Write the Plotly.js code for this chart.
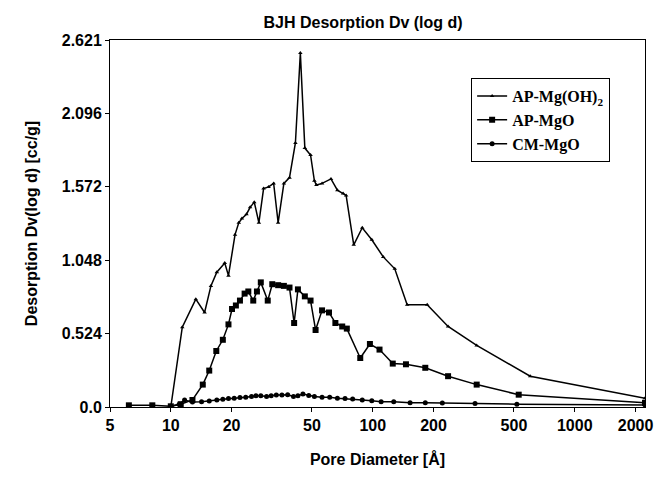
<!DOCTYPE html>
<html>
<head>
<meta charset="utf-8">
<script src="https://cdn.plot.ly/plotly-3.0.1.min.js"></script>
<style>html,body{margin:0;padding:0;background:#fff;}#chart{width:659px;height:478px;}</style>
</head>
<body>
<div id="chart"></div>
<script>
// AP-Mg(OH)2
const ohX = [10, 11.4, 13.3, 14.7, 15.8, 16.9, 18.5, 19.3, 20.8, 21.7, 22.5, 23.7, 24.7, 25.9, 27.3, 28.8, 30.5, 32.3, 34.0, 36.3, 38.7, 41.4, 43.8, 46.1, 49.2, 51.4, 52.6, 56.1, 62.1, 66.8, 71.3, 73.8, 80.5, 88.7, 98.9, 112.7, 128.5, 148, 186, 236, 327, 602, 2228];
const ohY = [0, 0.57, 0.77, 0.675, 0.865, 0.963, 1.028, 0.938, 1.231, 1.316, 1.346, 1.377, 1.426, 1.463, 1.316, 1.560, 1.572, 1.597, 1.316, 1.597, 1.638, 1.886, 2.528, 1.849, 1.80, 1.615, 1.585, 1.597, 1.629, 1.548, 1.524, 1.511, 1.158, 1.280, 1.194, 1.072, 0.987, 0.73, 0.73, 0.575, 0.44, 0.22, 0.0625];
// AP-MgO
const apX = [6.2, 8.1, 10, 11.2, 12.8, 14.4, 15.5, 16.8, 18.1, 19.3, 20.1, 21.0, 22.0, 23.2, 24.2, 25.6, 26.7, 27.9, 30.2, 31.8, 34.0, 36.3, 38.7, 40.8, 42.6, 46.1, 49.2, 52.1, 56.1, 60.7, 65.3, 70.6, 74.4, 86.7, 96.8, 108, 125.6, 146, 182, 236, 327, 528, 2228];
const apY = [0.012, 0.012, 0.005, 0.02, 0.05, 0.16, 0.26, 0.40, 0.48, 0.59, 0.70, 0.725, 0.76, 0.81, 0.825, 0.76, 0.825, 0.89, 0.76, 0.877, 0.870, 0.865, 0.853, 0.60, 0.84, 0.79, 0.76, 0.55, 0.69, 0.675, 0.60, 0.575, 0.56, 0.35, 0.45, 0.41, 0.31, 0.305, 0.28, 0.22, 0.16, 0.088, 0.03];
// CM-MgO
const cmX = [10, 11.0, 11.7, 12.8, 14.2, 15.5, 16.9, 18.1, 19.3, 20.6, 22.0, 23.5, 25.1, 26.4, 27.9, 29.8, 31.4, 33.3, 35.5, 37.9, 40.5, 42.6, 45.1, 48.2, 51.4, 56.1, 61.2, 66.8, 72.9, 79.5, 88.7, 98.9, 110, 127, 153, 182, 221, 321, 517, 2228];
const cmY = [0.005, 0.02, 0.05, 0.035, 0.038, 0.042, 0.05, 0.055, 0.06, 0.063, 0.068, 0.07, 0.075, 0.08, 0.08, 0.075, 0.08, 0.085, 0.085, 0.088, 0.075, 0.08, 0.093, 0.082, 0.075, 0.07, 0.07, 0.063, 0.06, 0.058, 0.05, 0.045, 0.038, 0.038, 0.03, 0.03, 0.028, 0.025, 0.02, 0.015];

const yTicks = [0, 0.524, 1.048, 1.572, 2.096, 2.621];
const yTickText = ['0.0', '0.524', '1.048', '1.572', '2.096', '2.621'];
const xTicks = [5, 10, 20, 50, 100, 200, 500, 1000, 2000];
const xTickText = ['5', '10', '20', '50', '100', '200', '500', '1000', '2000'];

const sans = 'Liberation Sans, Arial, sans-serif';
const serif = 'Liberation Serif, Times New Roman, serif';

const line = {color: '#000', width: 1.5};
const traces = [
  {x: ohX, y: ohY, name: 'AP-Mg(OH)<sub>2</sub>', mode: 'lines+markers', line: line,
   marker: {symbol: 'triangle-up', size: 4, color: '#000'}},
  {x: apX, y: apY, name: 'AP-MgO', mode: 'lines+markers', line: line,
   marker: {symbol: 'square', size: 6, color: '#000'}},
  {x: cmX, y: cmY, name: 'CM-MgO', mode: 'lines+markers', line: line,
   marker: {symbol: 'circle', size: 5, color: '#000'}}
];

const layout = {
  width: 659, height: 478,
  margin: {l: 110, r: 14, t: 40, b: 71},
  paper_bgcolor: '#fff', plot_bgcolor: '#fff',
  showlegend: true,
  title: {text: 'BJH Desorption Dv (log d)', x: 0.551, xanchor: 'center', y: 0.954, yanchor: 'middle',
          font: {family: sans, size: 16, weight: 'bold', color: '#000'}},
  xaxis: {type: 'log', range: [Math.log10(5), Math.log10(2228)],
          tickvals: xTicks, ticktext: xTickText, ticks: 'outside', ticklen: 4, tickcolor: '#000',
          showline: true, linecolor: '#000', linewidth: 1, mirror: true, showgrid: false, zeroline: false,
          tickfont: {family: sans, size: 16, weight: 'bold', color: '#000'},
          title: {text: 'Pore Diameter [Å]', standoff: 20, font: {family: sans, size: 16, weight: 'bold', color: '#000'}}},
  yaxis: {range: [0, 2.621], tickvals: yTicks, ticktext: yTickText, ticks: 'outside', ticklen: 4, tickcolor: '#000',
          showline: true, linecolor: '#000', linewidth: 1, mirror: true, showgrid: false, zeroline: false,
          tickfont: {family: sans, size: 16, weight: 'bold', color: '#000'},
          title: {text: 'Desorption Dv(log d) [cc/g]', standoff: 20, font: {family: sans, size: 16, weight: 'bold', color: '#000'}}},
  legend: {x: 0.675, y: 0.896, xanchor: 'left', yanchor: 'top', bgcolor: '#fff', bordercolor: '#000', borderwidth: 1,
           font: {family: serif, size: 16, weight: 'bold', color: '#000'}, itemwidth: 30, tracegroupgap: 0}
};

Plotly.newPlot('chart', traces, layout, {displayModeBar: false, staticPlot: true});
</script>
</body>
</html>
